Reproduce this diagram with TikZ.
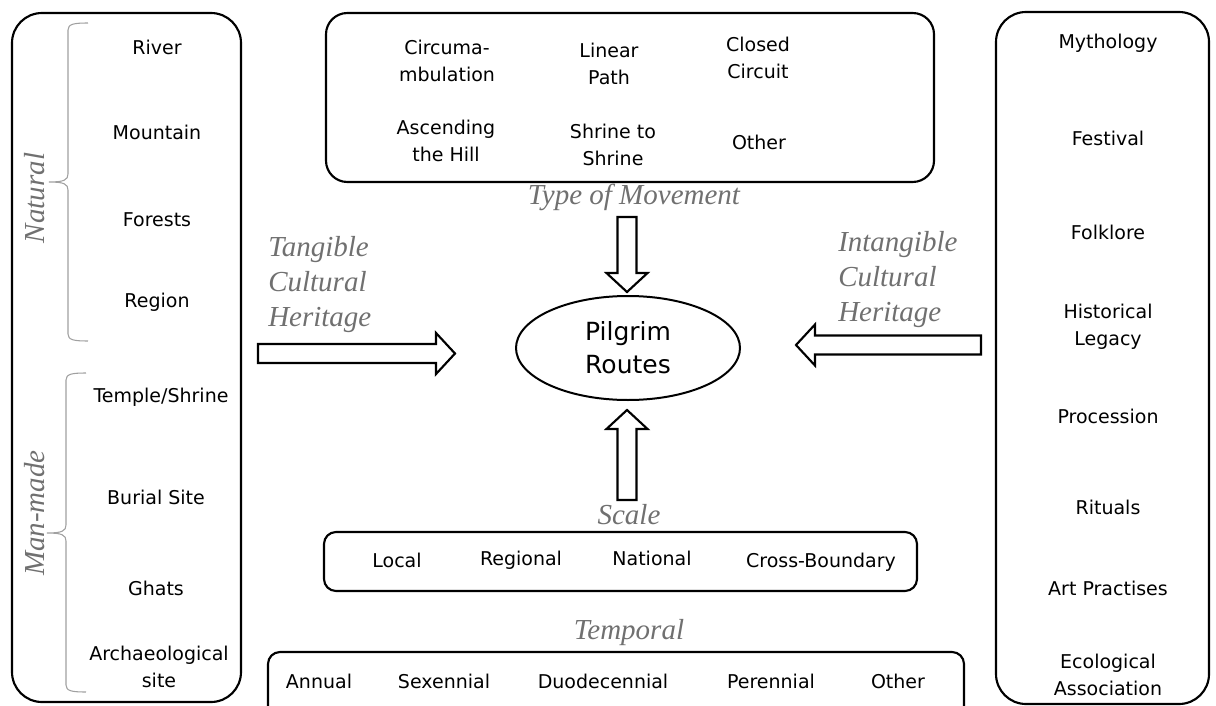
\documentclass[tikz,border=0pt]{standalone}
\usepackage{fontspec}
\setmainfont{DejaVu Sans}
\newfontfamily\labelserif{Liberation Serif}
\usetikzlibrary{shapes.geometric,calc}

\definecolor{labelgray}{RGB}{112,112,112}
\definecolor{bracegray}{RGB}{160,160,160}

\tikzset{
  entry/.style={inner sep=0pt, align=center, font=\fontsize{14.25}{20.25}\selectfont},
  catlabel/.style={inner sep=0pt, align=left, text=labelgray, font=\labelserif\itshape\fontsize{21.75}{26.25}\selectfont},
  roundbox/.style={line width=1.6pt, rounded corners=#1},
  roundbox/.default=16pt,
  blockline/.style={line width=1.6pt, fill=white, line join=miter},
  catbrace/.style={bracegray, line width=0.8pt},
}

% block arrow from tail #1 to tip #2
\newcommand{\blockarrow}[2]{%
  \coordinate (ba-h) at ($(#2)!14.25pt!(#1)$);
  \draw [blockline] ($(#1)!7.1pt!90:(#2)$) -- ($(ba-h)!7.1pt!90:(#2)$) -- ($(ba-h)!15.4pt!90:(#2)$) -- (#2) -- ($(ba-h)!15.4pt!-90:(#2)$) -- ($(ba-h)!7.1pt!-90:(#2)$) -- ($(#1)!7.1pt!-90:(#2)$) -- cycle ;
}

\begin{document}
\begin{tikzpicture}[x=0.75pt,y=0.75pt,yscale=-1,xscale=1]
\clip (0,0) rectangle (1216,706);

%Shape: Rounded Rect (tangible)
\draw [roundbox=22.5pt] (12,13) rectangle (241,702) ;
%Shape: Rounded Rect (intangible)
\draw [roundbox=22.5pt] (996,12) rectangle (1209,704) ;
%Shape: Rounded Rect (movement)
\draw [roundbox=16pt] (326,13) rectangle (934,182) ;
%Shape: Rounded Rect (scale)
\draw [roundbox=9pt] (324,532) rectangle (917,591) ;
%Shape: Rounded Rect (temporal)
\draw [roundbox=9pt] (268,652) rectangle (964,740) ;

%Shape: Brace (natural)
\draw [catbrace] (88,23) .. controls (74,23) and (68,24) .. (68,30) -- (68,174) .. controls (68,180) and (64,182) .. (49,182) .. controls (64,182) and (68,184) .. (68,190) -- (68,334) .. controls (68,340) and (74,341) .. (88,341) ;
%Shape: Brace (man-made)
\draw [catbrace] (86,373) .. controls (72,373) and (66,374) .. (66,380) -- (66,525) .. controls (66,531) and (62,533) .. (47,533) .. controls (62,533) and (66,535) .. (66,541) -- (66,685) .. controls (66,691) and (72,692) .. (86,692) ;

% Text Node
\node (natural) [catlabel, rotate=90] at (35,198) {Natural};
\node (manmade) [catlabel, rotate=90] at (35,513) {Man-made};

% Text Node
\node (river) [entry] at (157,47) {River};
\node (mountain) [entry] at (157,132) {Mountain};
\node (forests) [entry] at (157,220) {Forests};
\node (region) [entry] at (157,302) {Region};
\node (temple) [entry] at (161,397) {Temple/Shrine};
\node (burial) [entry] at (156,497) {Burial Site};
\node (ghats) [entry] at (156,588) {Ghats};
\node (archaeo) [entry] at (159,667) {Archaeological\\site};

% Text Node
\node (myth) [entry] at (1108,43) {Mythology};
\node (festival) [entry] at (1108,138) {Festival};
\node (folklore) [entry] at (1108,232) {Folklore};
\node (legacy) [entry] at (1108,327) {Historical\\Legacy};
\node (procession) [entry] at (1108,416) {Procession};
\node (rituals) [entry] at (1108,507) {Rituals};
\node (artprac) [entry] at (1108,588) {Art Practises};
\node (ecolog) [entry] at (1108,675) {Ecological\\Association};

% Text Node
\node (circum) [entry] at (447,61) {Circuma-\\mbulation};
\node (linear) [entry] at (609,64) {Linear\\Path};
\node (closed) [entry] at (758,58) {Closed\\Circuit};
\node (ascend) [entry] at (446,141) {Ascending\\the Hill};
\node (shrine) [entry] at (613,145) {Shrine to\\Shrine};
\node (othermov) [entry] at (759,142) {Other};

% Text Node
\node (local) [entry] at (397,560) {Local};
\node (regional) [entry] at (521,560) {Regional};
\node (national) [entry] at (652,558) {National};
\node (crossb) [entry] at (821,562) {Cross-Boundary};

% Text Node
\node (annual) [entry] at (319,681) {Annual};
\node (sexen) [entry] at (444,681) {Sexennial};
\node (duodec) [entry] at (603,681) {Duodecennial};
\node (perenn) [entry] at (771,681) {Perennial};
\node (othertemp) [entry] at (898,681) {Other};

% Category labels
\node (movlabel) [catlabel] at (634,197) {Type of Movement};
\node (scalelabel) [catlabel] at (629,515) {Scale};
\node (templabel) [catlabel] at (629,633) {Temporal};
\node (tanglabel) [catlabel, anchor=west] at (268,285) {Tangible\\Cultural\\Heritage};
\node (intanglabel) [catlabel, anchor=west] at (838,280) {Intangible\\Cultural\\Heritage};

%Shape: Ellipse
\node (route) [ellipse, draw, line width=1.5pt, inner sep=0pt, minimum width=168pt, minimum height=78pt, align=center, font=\fontsize{18.75}{24.75}\selectfont] at (628,348) {Pilgrim\\Routes};

%Block arrows
\coordinate (movtail) at (627,217);
\coordinate (movtip) at ($(route.north)+(-1,-3)$);
\coordinate (scaletail) at (627,500);
\coordinate (scaletip) at ($(route.south)+(-1,9)$);
\coordinate (tangtail) at (258,353.5);
\coordinate (tangtip) at ($(route.west)+(-60,5.5)$);
\coordinate (intangtail) at (981,345);
\coordinate (intangtip) at ($(route.east)+(55,-3)$);
\blockarrow{movtail}{movtip}
\blockarrow{scaletail}{scaletip}
\blockarrow{tangtail}{tangtip}
\blockarrow{intangtail}{intangtip}

\end{tikzpicture}
\end{document}
